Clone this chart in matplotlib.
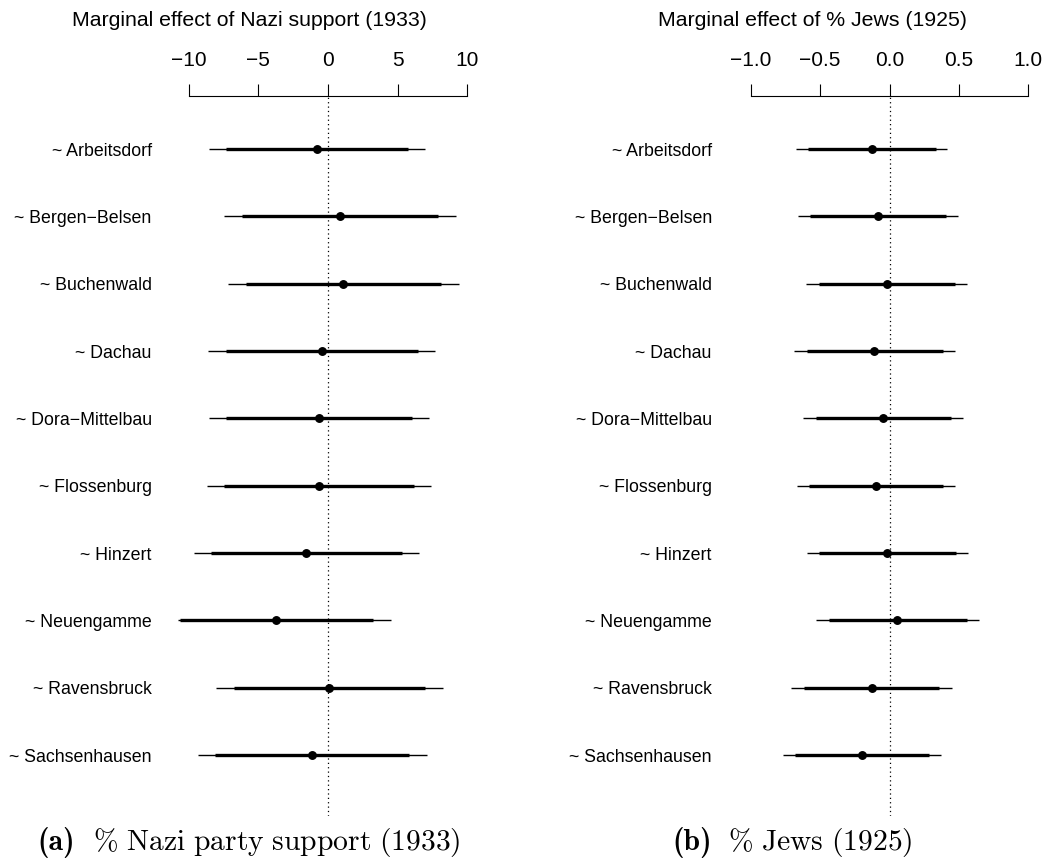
import numpy as np
import matplotlib
matplotlib.use("Agg")
from matplotlib import pyplot as plt

plt.rcParams['font.family'] = ['Liberation Sans', 'DejaVu Sans']
plt.rcParams['mathtext.fontset'] = 'cm'

# Camps (same order in both panels)
camps = ["~ Arbeitsdorf", "~ Bergen\u2212Belsen", "~ Buchenwald", "~ Dachau",
         "~ Dora\u2212Mittelbau", "~ Flossenburg", "~ Hinzert", "~ Neuengamme",
         "~ Ravensbruck", "~ Sachsenhausen"]

# Panel (a): marginal effect of Nazi support (1933)
nazi_est = [-0.81, 0.86, 1.10, -0.46, -0.65, -0.65, -1.58, -3.71, 0.10, -1.15]
nazi_lo90 = [-7.35, -6.16, -5.89, -7.35, -7.35, -7.45, -8.38, -10.63, -6.75, -8.09]
nazi_hi90 = [5.73, 7.88, 8.12, 6.44, 6.06, 6.15, 5.29, 3.26, 6.97, 5.82]
nazi_lo95 = [-8.55, -7.45, -7.18, -8.60, -8.57, -8.69, -9.63, -10.75, -8.02, -9.36]
nazi_hi95 = [6.97, 9.17, 9.41, 7.71, 7.28, 7.38, 6.51, 4.50, 8.24, 7.09]

# Panel (b): marginal effect of % Jews (1925)
jews_est = [-0.128, -0.080, -0.020, -0.109, -0.047, -0.099, -0.016, 0.056, -0.128, -0.198]
jews_lo90 = [-0.589, -0.571, -0.508, -0.594, -0.532, -0.578, -0.506, -0.438, -0.618, -0.679]
jews_hi90 = [0.333, 0.407, 0.472, 0.383, 0.441, 0.383, 0.477, 0.556, 0.359, 0.285]
jews_lo95 = [-0.674, -0.657, -0.599, -0.686, -0.621, -0.666, -0.594, -0.530, -0.707, -0.767]
jews_hi95 = [0.417, 0.496, 0.558, 0.474, 0.527, 0.470, 0.563, 0.645, 0.448, 0.369]

W, H = 1048, 865
fig = plt.figure(figsize=(W / 100, H / 100), dpi=100)

rows = np.arange(1, len(camps) + 1)


def panel(rect, est, lo90, hi90, lo95, hi95, xlim, ticks, ticklabels, pad):
    ax = fig.add_axes(rect)
    ax.hlines(rows, lo95, hi95, color='black', lw=1.0)
    ax.hlines(rows, lo90, hi90, color='black', lw=2.4)
    ax.plot(est, rows, 'o', color='black', ms=5.4)
    ax.axvline(0, ls=(0, (1, 2.5)), lw=0.9, color='black')
    ax.set_xlim(*xlim)
    ax.set_ylim(10.906, 0.213)
    for s in ['left', 'right', 'bottom']:
        ax.spines[s].set_visible(False)
    ax.spines['top'].set_bounds(ticks[0], ticks[-1])
    ax.spines['top'].set_linewidth(0.8)
    ax.xaxis.tick_top()
    ax.set_xticks(ticks, ticklabels)
    ax.tick_params(axis='x', length=8.6, width=0.8, pad=10, labelsize=15)
    ax.set_yticks(rows, camps)
    ax.tick_params(axis='y', length=0, pad=pad, labelsize=12.8)
    return ax


panel([0.1669, 0.0566, 0.2922, 0.8324], nazi_est, nazi_lo90, nazi_hi90,
      nazi_lo95, nazi_hi95, (-11, 11), [-10, -5, 0, 5, 10],
      ["\u221210", "\u22125", "0", "5", "10"], 16.7)
panel([0.7031, 0.0566, 0.2914, 0.8324], jews_est, jews_lo90, jews_hi90,
      jews_lo95, jews_hi95, (-1.1, 1.1), [-1.0, -0.5, 0.0, 0.5, 1.0],
      ["\u22121.0", "\u22120.5", "0.0", "0.5", "1.0"], 18.0)

fig.text(249 / W, 1 - 21 / H, "Marginal effect of Nazi support (1933)",
         ha='center', va='center', fontsize=15.3)
fig.text(812 / W, 1 - 21 / H, "Marginal effect of % Jews (1925)",
         ha='center', va='center', fontsize=15.3)

# sub-captions: bold label in cmb10, rest in Computer Modern roman
cap_y = 1 - 850 / H
fig.text(37 / W, cap_y, "(a)", family='cmb10', ha='left', va='baseline', fontsize=21.3)
fig.text(93 / W, cap_y, r"$\mathrm{\%\ Nazi\ party\ support\ (1933)}$",
         ha='left', va='baseline', fontsize=21.3)
fig.text(672 / W, cap_y, "(b)", family='cmb10', ha='left', va='baseline', fontsize=21.3)
fig.text(728 / W, cap_y, r"$\mathrm{\%\ Jews\ (1925)}$",
         ha='left', va='baseline', fontsize=21.3)

fig.savefig("out.png", dpi=100)
